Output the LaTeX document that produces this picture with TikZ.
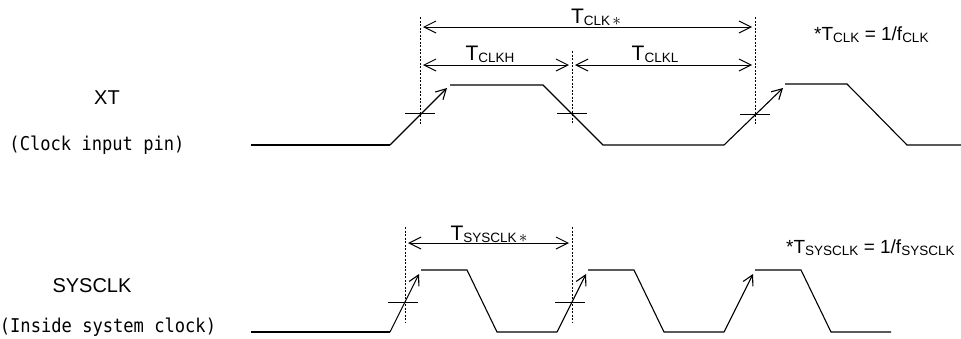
\documentclass[tikz,border=0pt]{standalone}
\usepackage{fontspec}
\setmainfont{Liberation Sans}
\newfontfamily\gothic[FakeStretch=0.9]{DejaVu Sans Mono}
\usetikzlibrary{arrows.meta}
\usetikzlibrary{positioning}
\newcommand\lowsub[1]{\raisebox{-2.5pt}{\fontsize{13.5}{13.5}\selectfont #1}}
\newcommand\midast{\,\raisebox{0.5pt}{\fontsize{18}{18}\selectfont$\ast$}}

\begin{document}
\begin{tikzpicture}[x=1pt,y=-1pt]
\tikzset{wave/.style={line width=1.1pt},
  rise/.style={wave,-{Straight Barb[length=10pt,width=11pt]}},
  guide/.style={line width=0.6pt,dash pattern=on 2pt off 1.5pt},
  tick/.style={line width=0.8pt},
  dim/.style={line width=1pt,{Straight Barb[length=12pt,width=12pt]}-{Straight Barb[length=12pt,width=12pt]},shorten <=3pt,shorten >=3pt},
  big/.style={font=\fontsize{20}{20}\selectfont,inner sep=0pt,anchor=base},
  period/.style={font=\fontsize{21}{21}\selectfont,inner sep=0pt,anchor=base},
  note/.style={font=\fontsize{19}{19}\selectfont,inner sep=0pt,anchor=base west},
  gothtext/.style={font=\gothic\fontsize{19}{19}\selectfont,inner sep=0pt,anchor=base}}
\useasboundingbox (0,0) rectangle (961,338);

% signal names
\path (107,104) node[big](xt) {XT};
\path (97,150) node[gothtext](xtpin) {(Clock input pin)};
\path (92,292) node[big](sys) {SYSCLK};
\path (108,332) node[gothtext](syspin) {(Inside system clock)};

% guide lines
\foreach \n/\x/\t/\b in {g1/420/17/124, g2/572/51/124, g3/755/17/125, g4/405/227/322, g5/572/227/322} {
\coordinate (\n t) at (\x,\t);
\coordinate (\n b) at (\x,\b);
\draw[guide] (\n t) -- (\n b);
}
\foreach \x/\y in {420/113, 572/113, 755/114, 403/302, 570/302} {
\draw[tick] (\x-15,\y) -- (\x+15,\y);
}

% XT waveform
\draw[wave] (251,145) -- (390,145);
\draw[rise] (390,145) -- (447,88);
\draw[wave] (450,85) -- (543,85) -- (603,145) -- (724,145);
\draw[rise] (724,145) -- (783,88);
\draw[wave] (785,84) -- (847,84) -- (907,145) -- (961,145);

% SYSCLK waveform
\draw[wave] (251,332) -- (390,332);
\foreach \x in {390,557,724} {
\draw[rise] (\x,332) -- (\x+29,274);
\draw[wave] (\x+31,270) -- (\x+77,270) -- (\x+107,332) -- (\x+167,332);
}

% periods
\draw[dim] (g1t |- 0,27) -- (g3t |- 0,27);
\draw[dim] (g1t |- 0,65) -- (g2t |- 0,65);
\draw[dim] (g2t |- 0,65) -- (g3t |- 0,65);
\draw[dim] (g4t |- 0,243) -- (g5t |- 0,243);
\path (596,23) node[period](tclk) {T\lowsub{CLK\midast}};
\path (490,60) node[period](tclkh) {T\lowsub{CLKH}};
\path (655,60) node[period](tclkl) {T\lowsub{CLKL}};
\path (489,240) node[period](tsys) {T\lowsub{SYSCLK\midast}};

% notes
\path (814,40) node[note](noteclk) {*T\lowsub{CLK} = 1/f\lowsub{CLK}};
\path (786,253) node[note](notesys) {*T\lowsub{SYSCLK} = 1/f\lowsub{SYSCLK}};

\end{tikzpicture}
\end{document}
